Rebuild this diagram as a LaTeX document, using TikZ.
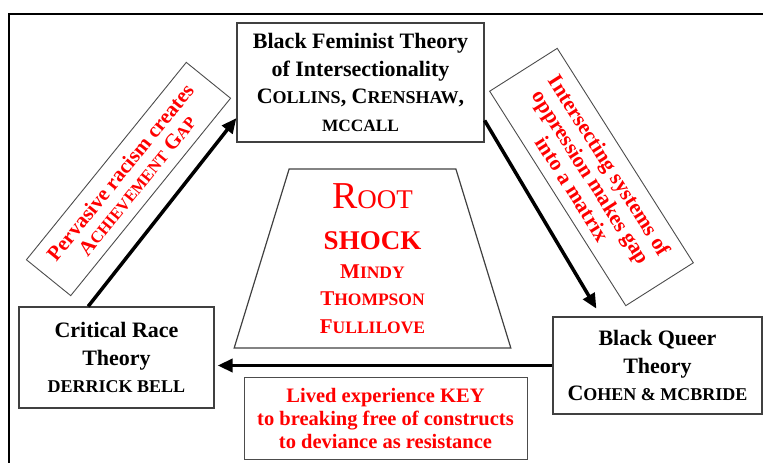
\documentclass[tikz,border=0pt]{standalone}
\usepackage{fontspec}
\setmainfont{Liberation Serif}
\usetikzlibrary{shapes.geometric, arrows.meta}
\newcommand{\fs}[2]{{\fontsize{#1}{#1}\selectfont #2}}
\tikzset{theory/.style={draw=black!75, line width=1.2pt, align=center, inner sep=0pt, font=\bfseries\fontsize{22}{27.5}\selectfont},
         claim/.style={draw=black!70, line width=0.9pt, align=center, inner sep=0pt, text=red, font=\bfseries\fontsize{21}{21.5}\selectfont},
         flow/.style={line width=3.5pt, -{Triangle[length=15pt,width=13pt]}},
        }

\begin{document}
\begin{tikzpicture}[x=1pt,y=-1pt]
        \useasboundingbox (0,0) rectangle (763,463);
        \draw[line width=1.8pt] (9,463) |- (763,14);

        \node[theory, minimum width=247pt, minimum height=119pt](bft)at(360.5,82.5){Black Feminist Theory\\of Intersectionality\\C\fs{18}{OLLINS}, C\fs{18}{RENSHAW},\\\fs{17.3}{MCCALL}};
        \node[theory, minimum width=195pt, minimum height=101pt](crt)at(116.5,357.5){Critical Race\\Theory\\\fs{18}{DERRICK BELL}};
        \node[theory, minimum width=209pt, minimum height=97pt](bqt)at(657.5,365.5){Black Queer\\Theory\\C\fs{18}{OHEN \& MCBRIDE}};

        \node[draw=black!75, line width=1.2pt, trapezium, trapezium angle=77, trapezium stretches=true, minimum width=277pt, minimum height=179pt, inner sep=0pt, align=center, text=red, font=\fontsize{21}{27.5}\selectfont](root)at(372.5,258.5){\fs{38}{R}\fs{27}{OOT}\\[14pt]{\bfseries\fs{27}{SHOCK}}\\[1pt]{\bfseries M\fs{17.5}{INDY}}\\{\bfseries T\fs{17.5}{HOMPSON}}\\{\bfseries F\fs{17.5}{ULLILOVE}}};

        \node[claim, rotate=51, minimum width=254pt, minimum height=57pt](gap)at(128.5,179){Pervasive racism creates\\A\fs{16.5}{CHIEVEMENT} G\fs{16.5}{AP}};
        \node[claim, rotate=-57.6, minimum width=254pt, minimum height=80pt, font=\bfseries\fontsize{21.5}{22}\selectfont](mat)at(591.5,177){Intersecting systems of\\oppression makes gap\\into a matrix};
        \node[claim, minimum width=283pt, minimum height=82pt, font=\bfseries\fontsize{20.5}{23}\selectfont](key)at(385.5,418){Lived experience KEY\\to breaking free of constructs\\to deviance as resistance};

        \draw[flow](crt.119)--(bft.196);
        \draw[flow, shorten >=9pt](bft.-17)--(bqt.139);
        \draw[flow, shorten >=3pt](bqt.west)--(bqt.west -| crt.east);
    \end{tikzpicture}
\end{document}
